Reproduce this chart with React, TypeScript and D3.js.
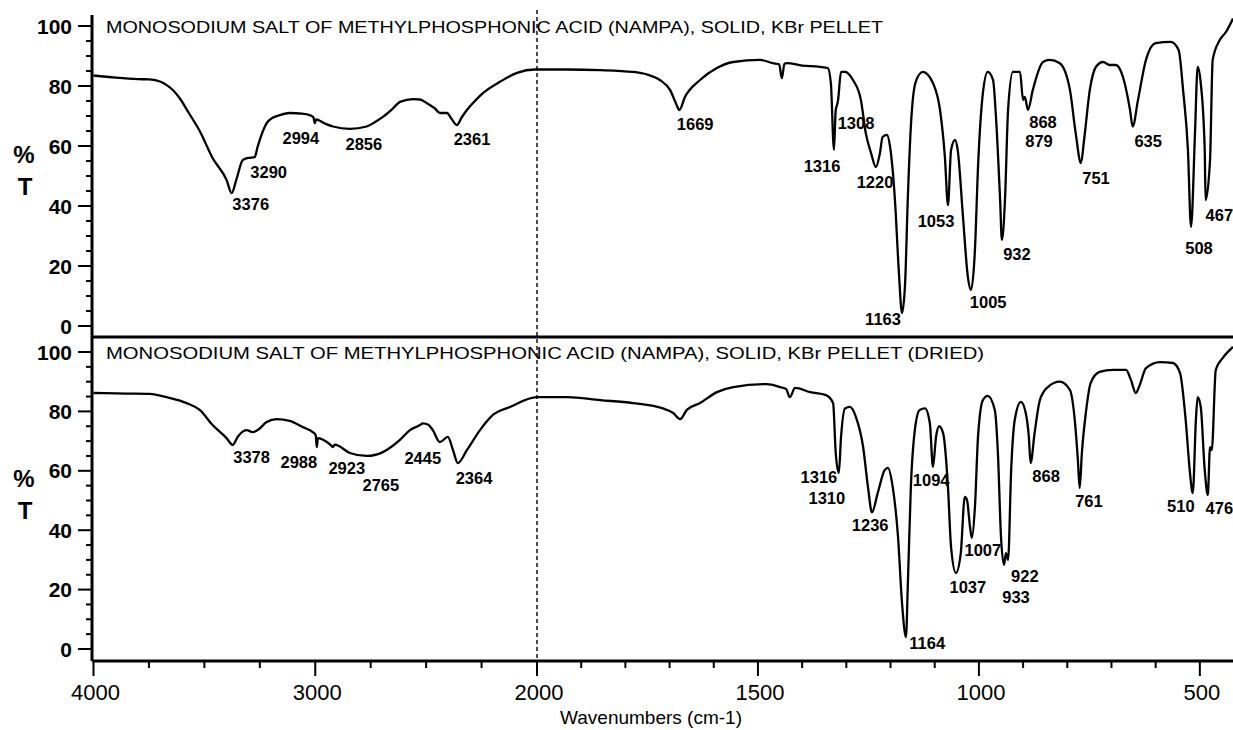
import React from "react";
import * as d3 from "d3";

// ---------- DATA ----------
const TITLE_TOP = "MONOSODIUM SALT OF METHYLPHOSPHONIC ACID (NAMPA), SOLID, KBr PELLET";
const TITLE_BOTTOM = "MONOSODIUM SALT OF METHYLPHOSPHONIC ACID (NAMPA), SOLID, KBr PELLET (DRIED)";
const X_TITLE = "Wavenumbers (cm-1)";
const Y_TITLE = ["%", "T"];

const X_BREAKS = [4000, 2000, 425];
const X_MAJOR_TICKS = [4000, 3000, 2000, 1500, 1000, 500];
const Y_MAJOR_TICKS = [0, 20, 40, 60, 80, 100];

// [wavenumber, %T]
const TOP_SPECTRUM: [number, number][] = [
  [4000, 83.5], [3900, 82.8], [3800, 82.3], [3747, 82.2], [3700, 81.5], [3670, 80.3],
  [3640, 78.5], [3612, 76], [3570, 71], [3521, 65], [3463, 56], [3400, 48.7],
  [3377, 44.3], [3355, 49], [3327, 55.3], [3304, 56], [3273, 56.3], [3260, 59.7],
  [3219, 67.6], [3190, 69.5], [3160, 70.3], [3115, 71], [3060, 70.8], [3025, 70.3],
  [3008, 69.5], [3002, 67.6], [2996, 68.9], [2988, 68.7], [2950, 67.3], [2920, 66.5],
  [2844, 65.7], [2768, 66.5], [2730, 68], [2695, 69.7], [2650, 72.5], [2618, 74.7],
  [2559, 75.6], [2528, 75.5], [2497, 74.3], [2460, 72.5], [2438, 71], [2406, 71],
  [2385, 69], [2361, 67], [2340, 69.5], [2316, 72], [2280, 75], [2244, 77.6],
  [2167, 81.4], [2090, 84.4], [2009, 85.5], [1932, 85.5], [1857, 85.3], [1783, 84.7],
  [1750, 83.8], [1722, 82], [1699, 78.7], [1685, 74], [1678, 72], [1665, 76.4],
  [1631, 82], [1593, 86], [1556, 88], [1495, 88.7], [1466, 87.6], [1452, 87.2],
  [1446, 82.6], [1440, 87.4], [1434, 87.6], [1400, 86.8], [1360, 86.4], [1342, 86],
  [1335, 81], [1328, 58.7], [1324, 72], [1321, 73.7], [1319, 75], [1312, 84.7],
  [1303, 84.7], [1285, 82], [1267, 75.3], [1256, 64.3], [1244, 57.6], [1233, 53],
  [1224, 57.6], [1218, 63], [1208, 63.7], [1201, 59.7], [1190, 42], [1181, 17.7],
  [1174, 4.3], [1167, 14.3], [1161, 42], [1154, 66.5], [1143, 81.4], [1127, 84.7],
  [1115, 83.7], [1104, 81], [1088, 72], [1077, 56.4], [1070, 40.3], [1063, 58.7],
  [1054, 62], [1048, 58.7], [1036, 36.4], [1025, 16.4], [1018, 12], [1009, 25.3],
  [1002, 53], [991, 77.6], [980, 84.7], [968, 82], [961, 68.7], [952, 42],
  [948, 28.7], [941, 42], [934, 72], [923, 84.7], [907, 84.7], [900, 75.3],
  [896, 76.4], [889, 72], [878, 78.7], [855, 88], [840, 88.7], [817, 87.6],
  [794, 78.7], [781, 64.3], [769, 54.3], [762, 62], [749, 78.7], [735, 86.4],
  [719, 88], [704, 87], [690, 87], [674, 83], [658, 72], [652, 66.5],
  [640, 75.3], [622, 88.7], [600, 94.3], [566, 94.7], [548, 92], [538, 78.7],
  [527, 58.7], [520, 33], [511, 64.3], [505, 86.4], [498, 81], [489, 58.7],
  [487, 42], [477, 55.3], [471, 88.7], [455, 95.3], [441, 98], [425, 102.5],
];

const BOTTOM_SPECTRUM: [number, number][] = [
  [4000, 86.2], [3850, 86.0], [3747, 85.9], [3670, 84.8], [3580, 82.8], [3521, 80.5],
  [3463, 75.4], [3400, 71], [3372, 68.7], [3350, 71.4], [3310, 73.7], [3282, 73],
  [3260, 73.7], [3219, 76.4], [3174, 77.4], [3115, 76.8], [3056, 74.7], [3011, 73],
  [2998, 72], [2993, 68], [2988, 71], [2948, 69.7], [2928, 68.5], [2920, 68],
  [2912, 68.8], [2844, 66], [2768, 65], [2695, 66.3], [2618, 70.4], [2573, 73.7],
  [2528, 75.4], [2515, 76], [2490, 75.5], [2470, 73.7], [2438, 69.7], [2402, 71.4],
  [2379, 67], [2357, 62.6], [2316, 67], [2257, 73.7], [2199, 78.8], [2122, 81.5],
  [2000, 84.8], [1932, 84.8], [1857, 83.8], [1783, 82.8], [1715, 81], [1692, 79.5],
  [1676, 77.4], [1661, 80.5], [1631, 82.8], [1593, 86.5], [1556, 88.2], [1480, 89.2],
  [1450, 88.2], [1436, 87.5], [1428, 84.8], [1416, 87.9], [1382, 86.5], [1346, 85.5],
  [1330, 82.8], [1324, 66], [1317, 59.3], [1312, 71.4], [1303, 81], [1292, 81.5],
  [1278, 78], [1262, 68], [1251, 54.5], [1242, 46], [1229, 52.5], [1213, 60.3],
  [1206, 61], [1195, 54.5], [1183, 37.7], [1174, 15.5], [1165, 4], [1161, 20.9],
  [1154, 54.5], [1145, 73.7], [1134, 80.5], [1122, 81], [1111, 76], [1104, 61.3],
  [1097, 71.4], [1090, 75], [1081, 72.7], [1070, 54.5], [1063, 34.3], [1052, 25.6],
  [1041, 32.3], [1032, 51.2], [1027, 50.2], [1020, 41], [1016, 37.4], [1009, 47.8],
  [1002, 71.4], [991, 83.8], [980, 85.2], [964, 80.5], [957, 66], [950, 37.7],
  [943, 28.3], [939, 32.3], [934, 30], [927, 60.3], [919, 77], [905, 83.2],
  [894, 79.5], [887, 71.4], [883, 62.6], [874, 72.7], [862, 83.8], [844, 88.2],
  [817, 90], [794, 87.2], [783, 77], [776, 63.6], [772, 54.2], [767, 66],
  [758, 79.5], [747, 89.6], [727, 93.3], [697, 94], [667, 94], [656, 90.6],
  [645, 86.2], [636, 88.9], [622, 94.6], [590, 96.6], [561, 96.3], [545, 93],
  [532, 77], [523, 60.3], [516, 52.5], [509, 77], [505, 84.8], [498, 81.5],
  [489, 60.3], [482, 51.8], [477, 68], [473, 67], [464, 94], [448, 98],
  [425, 101.7],
];

// peak annotations: [label, wavenumber at text centre, %T at text centre]
const TOP_PEAK_LABELS: [string, number, number][] = [
  ["3290", 3210, 51.3], ["3376", 3291, 40.7], ["2994", 3065, 62.7], ["2856", 2781, 60.7],
  ["2361", 2293, 62.3], ["1669", 1642, 67.3], ["1316", 1355, 53.3], ["1308", 1278, 67.7],
  ["1220", 1235, 48], ["1163", 1217, 2.3], ["1053", 1097, 35], ["1005", 979, 8],
  ["932", 914, 24], ["868", 855, 68], ["879", 864, 61.7], ["751", 735, 49.3],
  ["635", 617, 61.7], ["508", 502, 26], ["467", 456, 37],
];

const BOTTOM_PEAK_LABELS: [string, number, number][] = [
  ["3378", 3287, 64.6], ["2988", 3074, 63], ["2923", 2858, 61], ["2765", 2704, 55.2],
  ["2445", 2515, 64.3], ["2364", 2284, 57.6], ["1316", 1362, 57.9], ["1310", 1344, 50.8],
  ["1236", 1246, 41.8], ["1164", 1117, 2], ["1094", 1108, 56.9], ["1037", 1025, 20.9],
  ["1007", 991, 33.3], ["922", 896, 24.6], ["933", 916, 17.5], ["868", 848, 58.2],
  ["761", 751, 49.8], ["510", 543, 48.1], ["476", 456, 47.5],
];

// ---------- LAYOUT ----------
const W = 1233;
const H = 730;
const AXIS_X = 92;
const DIVIDER_Y = 337;
const BOTTOM_AXIS_Y = 661;
const FONT = "'Liberation Sans', Arial, Helvetica, sans-serif";

const x = d3.scaleLinear().domain(X_BREAKS).range([93.5, 537, 1233]);
const yTop = d3.scaleLinear().domain([0, 100]).range([326, 26]);
const yBot = d3.scaleLinear().domain([0, 100]).range([649, 352]);

const minorX = [
  ...d3.range(4000, 2000, -250),
  ...d3.range(2000, 400, -100),
].filter((v) => !X_MAJOR_TICKS.includes(v) && v >= 425);

const minorY = d3.range(0, 101, 5).filter((v) => !Y_MAJOR_TICKS.includes(v));

function Panel({
  y,
  data,
  labels,
  title,
  yTitle,
}: {
  y: d3.ScaleLinear<number, number>;
  data: [number, number][];
  labels: [string, number, number][];
  title: string;
  yTitle: number;
}) {
  const line = d3
    .line<[number, number]>()
    .x((d) => x(d[0]))
    .y((d) => y(d[1]))
    .curve(d3.curveMonotoneX);
  return (
    <g>
      <path d={line(data) || ""} fill="none" stroke="#000" strokeWidth={2.3} strokeLinejoin="round" />
      {Y_MAJOR_TICKS.map((t) => (
        <g key={"M" + t}>
          <line x1={AXIS_X - 14} x2={AXIS_X} y1={y(t)} y2={y(t)} stroke="#000" strokeWidth={2} />
          <text
            x={72}
            y={y(t)}
            dy="0.36em"
            textAnchor="end"
            fontFamily={FONT}
            fontSize={21}
            fontWeight="bold"
          >
            {t}
          </text>
        </g>
      ))}
      {minorY.map((t) => (
        <line key={"m" + t} x1={AXIS_X - 6} x2={AXIS_X} y1={y(t)} y2={y(t)} stroke="#000" strokeWidth={2} />
      ))}
      <text
        x={106}
        y={y(100) + 7}
        fontFamily={FONT}
        fontSize={17}
        textLength={title.length > 70 ? 878 : 777}
        lengthAdjust="spacingAndGlyphs"
      >
        {title}
      </text>
      <text x={24} y={yTitle} textAnchor="middle" fontFamily={FONT} fontSize={24} fontWeight="bold">
        {Y_TITLE[0]}
      </text>
      <text x={25} y={yTitle + 32} textAnchor="middle" fontFamily={FONT} fontSize={24} fontWeight="bold">
        {Y_TITLE[1]}
      </text>
      {labels.map(([lab, wn, t]) => (
        <text
          key={lab + wn}
          x={x(wn)}
          y={y(t)}
          dy="0.36em"
          textAnchor="middle"
          fontFamily={FONT}
          fontSize={16.5}
          fontWeight="bold"
        >
          {lab}
        </text>
      ))}
    </g>
  );
}

export default function App() {
  return (
    <svg
      width={W}
      height={H}
      style={{ position: "absolute", left: 0, top: 0, background: "#fff" }}
    >
      <rect x={0} y={0} width={W} height={H} fill="#fff" />
      <Panel y={yTop} data={TOP_SPECTRUM} labels={TOP_PEAK_LABELS} title={TITLE_TOP} yTitle={163} />
      <Panel y={yBot} data={BOTTOM_SPECTRUM} labels={BOTTOM_PEAK_LABELS} title={TITLE_BOTTOM} yTitle={487} />
      {/* frame */}
      <line x1={AXIS_X} x2={AXIS_X} y1={15} y2={BOTTOM_AXIS_Y} stroke="#000" strokeWidth={3} />
      <line x1={AXIS_X} x2={W} y1={DIVIDER_Y} y2={DIVIDER_Y} stroke="#000" strokeWidth={3} />
      <line x1={AXIS_X} x2={W} y1={BOTTOM_AXIS_Y} y2={BOTTOM_AXIS_Y} stroke="#000" strokeWidth={3} />
      <line
        x1={x(2000)}
        x2={x(2000)}
        y1={10}
        y2={BOTTOM_AXIS_Y}
        stroke="#000"
        strokeWidth={1.4}
        strokeDasharray="4 3"
      />
      {/* x axis ticks */}
      {X_MAJOR_TICKS.map((t) => (
        <g key={"X" + t}>
          <line x1={x(t)} x2={x(t)} y1={BOTTOM_AXIS_Y} y2={BOTTOM_AXIS_Y + 15} stroke="#000" strokeWidth={2} />
          <text x={x(t) + 2} y={700} textAnchor="middle" fontFamily={FONT} fontSize={22}>
            {t}
          </text>
        </g>
      ))}
      {minorX.map((t) => (
        <line key={"x" + t} x1={x(t)} x2={x(t)} y1={BOTTOM_AXIS_Y} y2={BOTTOM_AXIS_Y + 7} stroke="#000" strokeWidth={2} />
      ))}
      <text x={651} y={724} textAnchor="middle" fontFamily={FONT} fontSize={19}>
        {X_TITLE}
      </text>
    </svg>
  );
}
